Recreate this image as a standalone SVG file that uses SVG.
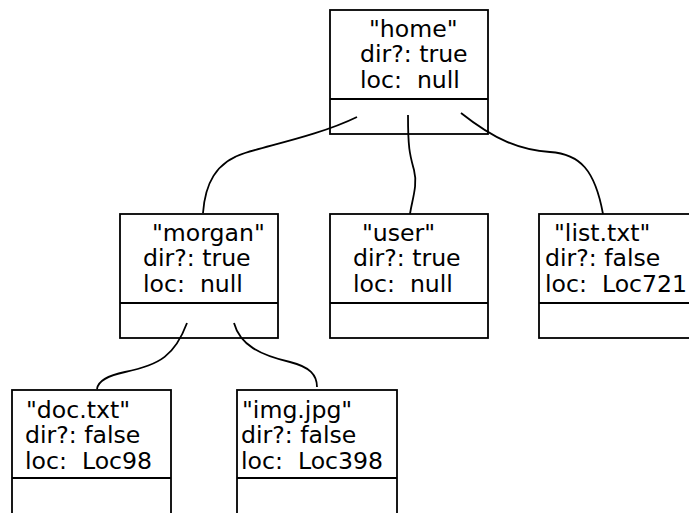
<svg xmlns="http://www.w3.org/2000/svg" width="689" height="513" viewBox="0 0 689 513">
<style>
.box{fill:#fff;stroke:#000;stroke-width:1.8}
.div{stroke:#000;stroke-width:1.8}
.t{font-family:"DejaVu Sans",sans-serif;font-size:23.6px;fill:#000;white-space:pre}
.c{fill:none;stroke:#000;stroke-width:1.8}
</style>
<rect width="689" height="513" fill="#fff"/>
<g id="home">
<rect class="box" x="330" y="10" width="158" height="124"/>
<line class="div" x1="330" y1="99" x2="488" y2="99"/>
<text class="t" x="369" y="37">"home"</text>
<text class="t" x="360" y="62">dir?: true</text>
<text class="t" x="360" y="88" xml:space="preserve">loc:  null</text>
</g>
<g id="morgan">
<rect class="box" x="120" y="214" width="158" height="124"/>
<line class="div" x1="120" y1="303" x2="278" y2="303"/>
<text class="t" x="152" y="241">"morgan"</text>
<text class="t" x="143" y="266">dir?: true</text>
<text class="t" x="143" y="292" xml:space="preserve">loc:  null</text>
</g>
<g id="user">
<rect class="box" x="330" y="214" width="158" height="124"/>
<line class="div" x1="330" y1="303" x2="488" y2="303"/>
<text class="t" x="362" y="241">"user"</text>
<text class="t" x="353" y="266">dir?: true</text>
<text class="t" x="353" y="292" xml:space="preserve">loc:  null</text>
</g>
<g id="list">
<rect class="box" x="539" y="214" width="158" height="124"/>
<line class="div" x1="539" y1="303" x2="697" y2="303"/>
<text class="t" x="554" y="241">"list.txt"</text>
<text class="t" x="545" y="266">dir?: false</text>
<text class="t" x="545" y="292" xml:space="preserve">loc:  Loc721</text>
</g>
<g id="doc">
<rect class="box" x="12" y="390" width="159" height="124"/>
<line class="div" x1="12" y1="478" x2="171" y2="478"/>
<text class="t" x="26" y="418">"doc.txt"</text>
<text class="t" x="25" y="443">dir?: false</text>
<text class="t" x="25" y="469" xml:space="preserve">loc:  Loc98</text>
</g>
<g id="img">
<rect class="box" x="237" y="390" width="160" height="124"/>
<line class="div" x1="237" y1="478" x2="397" y2="478"/>
<text class="t" x="242" y="418">"img.jpg"</text>
<text class="t" x="241" y="443">dir?: false</text>
<text class="t" x="241" y="469" xml:space="preserve">loc:  Loc398</text>
</g>
<g id="connectors">
<path class="c" d="M357,117 C320,135 270,145 245,153 C215,162 205,185 203,213"/>
<path class="c" d="M408,115 C408,150 410,155 414,170 C418,185 412,200 410,214"/>
<path class="c" d="M461,113 C495,140 520,150 550,152 C580,154 595,170 603,214"/>
<path class="c" d="M187,323 C175,355 160,365 125,372 C105,376 98,382 97,389"/>
<path class="c" d="M234,323 C240,345 260,355 290,362 C310,367 317,375 317,387"/>
</g>
</svg>
